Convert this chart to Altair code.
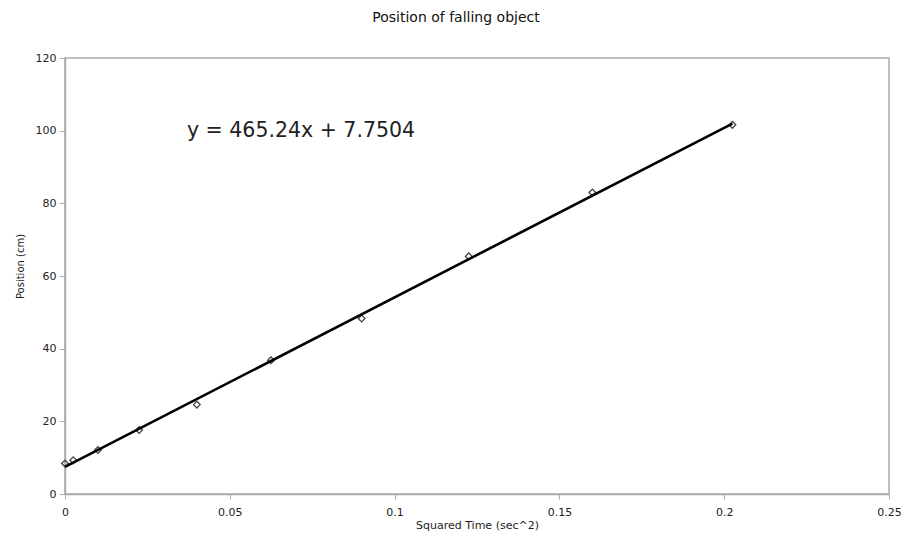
import altair as alt
import pandas as pd

# Data
squared_time = [0.0, 0.0025, 0.01, 0.0225, 0.04, 0.0625, 0.09, 0.1225, 0.16, 0.2025]
position_cm = [8.4, 9.3, 12.1, 17.6, 24.6, 36.8, 48.3, 65.4, 83.0, 101.6]

equation_text = ["y = 465.24x + 7.7504"]
equation_x = [0.037]
equation_y = [98.3]

x_ticks = [0, 0.05, 0.1, 0.15, 0.2, 0.25]
y_ticks = [0, 20, 40, 60, 80, 100, 120]

df = pd.DataFrame({"t2": squared_time, "pos": position_cm})
eq_df = pd.DataFrame({"label": equation_text, "x": equation_x, "y": equation_y})

FONT = "DejaVu Sans"
GRAY = "#aaaaaa"

x_enc = alt.X(
    "t2:Q",
    scale=alt.Scale(domain=[0, 0.25], nice=False, zero=False),
    axis=alt.Axis(
        values=x_ticks,
        title="Squared Time (sec^2)",
        titleFontSize=11,
        titleFont=FONT,
        titleFontWeight="normal",
        titleColor="#222222",
        titleY=31,
        titleBaseline="middle",
        labelFont=FONT,
        labelFontSize=11,
        labelColor="#222222",
        labelPadding=7,
        labelFlush=False,
        tickSize=5,
        tickColor=GRAY,
        domainColor=GRAY,
        domainWidth=1.5,
        grid=False,
        labelExpr="datum.value == 0 ? '0' : format(datum.value, '.2~f')",
    ),
)
y_enc = alt.Y(
    "pos:Q",
    scale=alt.Scale(domain=[0, 120], nice=False),
    axis=alt.Axis(
        values=y_ticks,
        title="Position (cm)",
        titleFontSize=10,
        titleFont=FONT,
        titleFontWeight="normal",
        titleColor="#222222",
        titleX=-45,
        titleY=208,
        titleAlign="center",
        titleBaseline="middle",
        titleAngle=270,
        labelFont=FONT,
        labelFontSize=11,
        labelColor="#222222",
        labelPadding=3,
        labelFlush=False,
        tickSize=6,
        tickColor=GRAY,
        domainColor=GRAY,
        domainWidth=1.5,
        grid=False,
    ),
)

points = alt.Chart(df).mark_point(
    shape="diamond", filled=False, size=45, color="#444444", strokeWidth=1.3, opacity=1
).encode(x=x_enc, y=y_enc)

trend = alt.Chart(df).transform_regression(
    "t2", "pos", method="linear"
).mark_line(color="#000000", strokeWidth=2.6).encode(x="t2:Q", y="pos:Q")

equation = alt.Chart(eq_df).mark_text(
    align="left", baseline="alphabetic", fontSize=20.5, font=FONT, color="#222222"
).encode(x="x:Q", y="y:Q", text="label:N")

chart = (
    alt.layer(points, trend, equation)
    .properties(
        width=824,
        height=436,
        autosize=alt.AutoSizeParams(type="none"),
        padding={"left": 57, "top": 50, "right": 12, "bottom": 40},
        title=alt.TitleParams(
            "Position of falling object",
            font=FONT,
            fontSize=14,
            fontWeight="normal",
            color="#111111",
            anchor="middle",
            frame="group",
            dx=-21,
            baseline="alphabetic",
            offset=16,
        ),
    )
    .configure_view(stroke=GRAY, strokeWidth=1.5)
)

chart.save("out.html", embed_options={"renderer": "svg", "actions": False})
